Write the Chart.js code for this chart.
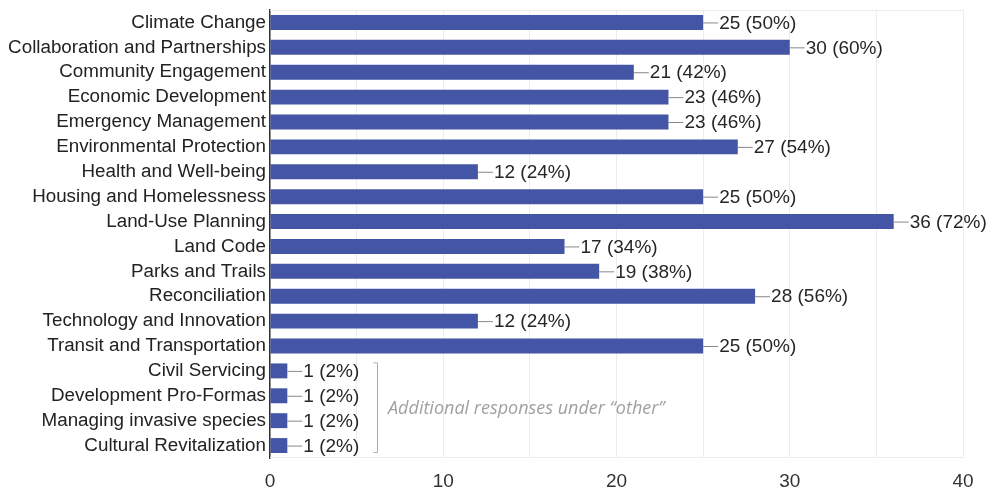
<!DOCTYPE html>
<html>
<head>
<meta charset="utf-8">
<script src="https://cdn.jsdelivr.net/npm/chart.js@4/dist/chart.umd.min.js"></script>
<style>
  html, body { margin: 0; padding: 0; background: #fff; }
  #wrap { width: 987px; height: 489px; }
</style>
</head>
<body>
<div id="wrap"><canvas id="barChart"></canvas></div>
<script>
const categories = [
  'Climate Change', 'Collaboration and Partnerships', 'Community Engagement',
  'Economic Development', 'Emergency Management', 'Environmental Protection',
  'Health and Well-being', 'Housing and Homelessness', 'Land-Use Planning',
  'Land Code', 'Parks and Trails', 'Reconciliation', 'Technology and Innovation',
  'Transit and Transportation', 'Civil Servicing', 'Development Pro-Formas',
  'Managing invasive species', 'Cultural Revitalization'
];
const counts = [25, 30, 21, 23, 23, 27, 12, 25, 36, 17, 19, 28, 12, 25, 1, 1, 1, 1];
const percents = [50, 60, 42, 46, 46, 54, 24, 50, 72, 34, 38, 56, 24, 50, 2, 2, 2, 2];
const xTicks = [0, 10, 20, 30, 40];
const otherNote = 'Additional responses under \u201cother\u201d';
const otherFrom = 14; // first "other" category index

const FONT = '"Liberation Sans", Arial, sans-serif';

const labelPlugin = {
  id: 'barLabels',
  beforeDatasetsDraw(chart) {
    // faint frame lines at top and bottom of the plot
    const { ctx, chartArea } = chart;
    ctx.save();
    ctx.strokeStyle = '#ececec';
    ctx.lineWidth = 1;
    ctx.beginPath();
    ctx.moveTo(chartArea.left, chartArea.top + 0.5);
    ctx.lineTo(chartArea.right, chartArea.top + 0.5);
    ctx.moveTo(chartArea.left, chartArea.bottom - 0.5);
    ctx.lineTo(chartArea.right, chartArea.bottom - 0.5);
    ctx.stroke();
    ctx.restore();
  },
  afterDatasetsDraw(chart) {
    const ctx = chart.ctx;
    const meta = chart.getDatasetMeta(0);
    ctx.save();
    ctx.font = '19px ' + FONT;
    ctx.textBaseline = 'middle';
    ctx.textAlign = 'left';
    meta.data.forEach((bar, i) => {
      const x = bar.x, y = bar.y;
      ctx.strokeStyle = '#888';
      ctx.lineWidth = 1;
      ctx.beginPath();
      ctx.moveTo(x, y + 0.5);
      ctx.lineTo(x + 15, y + 0.5);
      ctx.stroke();
      ctx.fillStyle = '#262626';
      ctx.fillText(counts[i] + ' (' + percents[i] + '%)', x + 16, y + 1);
    });

    // bracket around the "other" responses
    const first = meta.data[otherFrom];
    const last = meta.data[meta.data.length - 1];
    const bx = 377.5;
    const y1 = first.y - 8, y2 = last.y + 7;
    ctx.strokeStyle = '#aaa';
    ctx.beginPath();
    ctx.moveTo(bx - 4, y1);
    ctx.lineTo(bx, y1);
    ctx.lineTo(bx, y2);
    ctx.lineTo(bx - 4, y2);
    ctx.stroke();
    ctx.fillStyle = '#a0a0a0';
    ctx.font = 'italic 18px "Open Sans", sans-serif';
    ctx.fillText(otherNote, 388, (y1 + y2) / 2 + 1);
    ctx.restore();
  }
};

const barCtx = document.getElementById('barChart').getContext('2d');
const barChart = new Chart(barCtx, {
  type: 'bar',
  data: {
    labels: categories,
    datasets: [{
      data: counts,
      backgroundColor: '#4455a5',
      borderWidth: 0,
      barPercentage: 0.6,
      categoryPercentage: 1
    }]
  },
  plugins: [labelPlugin],
  options: {
    indexAxis: 'y',
    responsive: true,
    maintainAspectRatio: false,
    animation: false,
    layout: { padding: { top: 10, right: 24, left: 0, bottom: 0 } },
    plugins: {
      legend: { display: false },
      tooltip: { enabled: false }
    },
    scales: {
      x: {
        min: 0,
        max: 40,
        afterBuildTicks(scale) {
          scale.ticks = [0, 5, 10, 15, 20, 25, 30, 35, 40].map(v => ({ value: v }));
        },
        afterFit(scale) { scale.height = 31; },
        ticks: {
          color: '#333',
          padding: 12,
          font: { family: FONT, size: 19 },
          callback: (v) => xTicks.includes(v) ? String(v) : ''
        },
        grid: {
          color: '#ececec',
          drawTicks: false
        },
        border: { display: false }
      },
      y: {
        afterFit(scale) {
          scale.width = 270;
          scale.paddingTop = 0;
          scale.paddingBottom = 0;
        },
        ticks: {
          color: '#222',
          padding: 4,
          autoSkip: false,
          font: { family: FONT, size: 18.8 }
        },
        grid: { display: false, drawTicks: false },
        border: { display: true, color: '#333', width: 1.5 }
      }
    }
  }
});
</script>
</body>
</html>
